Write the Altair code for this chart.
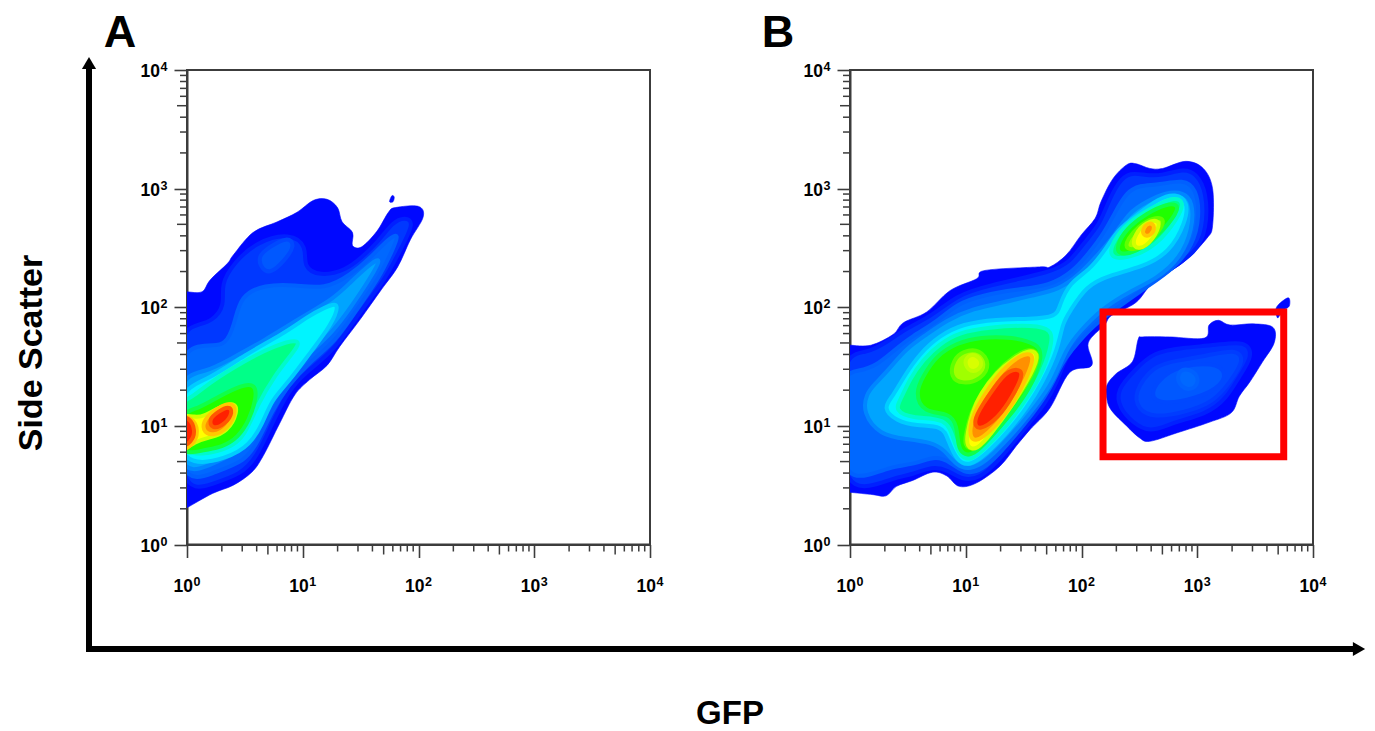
import altair as alt
import pandas as pd

BLUE0, BLUE1, BLUE2, BLUE3 = "#0008ff", "#0038ff", "#0068ff", "#00a4ff"
CYAN, MINT, GREEN, LIME = "#00f4ff", "#00ff88", "#20ff00", "#a0ff00"
YELLOW, ORANGE, RED = "#ffff00", "#ff9000", "#ff2000"
PALE_YELLOW = "#d8ff00"
BOX1, BOX2, BOX3, BOX4 = "#0030ff", "#0048ff", "#0058ff", "#0068ff"
EDGES = {BLUE1: "#0020ff", BLUE2: "#0050ff", BLUE3: "#0086ff", CYAN: "#00ccff", MINT: "#00facc", GREEN: "#10ff48",
         LIME: "#60ff00", YELLOW: "#d0ff00", ORANGE: "#ffc800", RED: "#ff5800", PALE_YELLOW: "#bcff00",
         BOX1: "#0020ff", BOX2: "#003cff", BOX3: "#0050ff", BOX4: "#0060ff", "#0058ff": "#0048ff"}

A_OUTER = [(-.1,2.13),(-.04,2.13),(0,2.13),(.13,2.13),(.20,2.23),(.35,2.37),(.40,2.44),(.57,2.63),(.78,2.72),(.95,2.80),(1.09,2.90),(1.21,2.91),(1.30,2.84),(1.34,2.72),(1.43,2.63),(1.43,2.52),(1.51,2.51),(1.64,2.64),(1.74,2.80),(1.80,2.84),(2.00,2.85),(2.04,2.76),(1.93,2.57),(1.82,2.34),(1.68,2.15),(1.49,1.89),(1.32,1.67),(1.21,1.51),(1.06,1.39),(.93,1.26),(.80,1.02),(.66,.75),(.56,.61),(.40,.50),(.22,.43),(0,.31),(-.04,.29),(-.1,.26)]
A_SPECK = [(1.75,2.89),(1.77,2.94),(1.79,2.93),(1.78,2.89)]
A_L1 = [(-.1,.40),(.24,.52),(.46,.59),(.60,.73),(.73,1.01),(.87,1.29),(1.02,1.45),(1.28,1.64),(1.49,1.96),(1.71,2.23),(1.84,2.48),(1.97,2.72),(1.88,2.76),(1.78,2.72),(1.65,2.55),(1.51,2.42),(1.37,2.31),(1.15,2.26),(1.00,2.34),(1.04,2.51),(.89,2.63),(.60,2.55),(.41,2.38),(.29,2.19),(.33,2.02),(.22,1.88),(.07,1.85),(-.1,1.77)]
A_L2_TOP = [(.65,2.31),(.61,2.43),(.70,2.50),(.87,2.60),(.94,2.52),(.83,2.38),(.73,2.29)]
A_L2 = [(-.1,.48),(.24,.61),(.50,.70),(.61,.86),(.73,1.12),(.87,1.34),(1.06,1.54),(1.28,1.71),(1.45,1.96),(1.65,2.23),(1.77,2.47),(1.84,2.63),(1.74,2.58),(1.60,2.43),(1.41,2.27),(1.19,2.15),(.93,2.19),(.67,2.19),(.46,2.10),(.41,1.85),(.33,1.68),(.22,1.68),(.11,1.68),(-.1,1.60)]
A_L3 = [(-.1,.56),(.20,.67),(.46,.78),(.56,.95),(.70,1.18),(.85,1.40),(1.06,1.62),(1.24,1.77),(1.41,1.99),(1.60,2.27),(1.68,2.42),(1.60,2.38),(1.41,2.21),(1.28,2.08),(.98,1.91),(.67,1.72),(.37,1.56),(.16,1.45),(-.1,1.43)]
A_L4 = [(-.1,.63),(.37,.73),(.54,.84),(.65,1.01),(.73,1.22),(.88,1.37),(1.08,1.64),(1.24,1.84),(1.33,2.05),(1.19,2.00),(1.04,1.92),(.84,1.78),(.50,1.60),(.17,1.38),(-.1,1.30)]
A_L5 = [(-.1,.71),(.37,.80),(.50,.92),(.61,1.18),(.76,1.43),(.92,1.62),(1.00,1.74),(.76,1.68),(.50,1.55),(.17,1.35),(.05,1.24),(-.1,1.19)]
A_L6 = [(-.1,.74),(.16,.80),(.30,.82),(.44,.90),(.54,1.05),(.60,1.24),(.59,1.35),(.48,1.35),(.26,1.24),(.11,1.15),(-.1,1.10)]
A_L7 = [(-.1,.75),(.09,.88),(.20,.90),(.35,.95),(.44,1.12),(.41,1.20),(.29,1.16),(.14,1.08),(.08,1.07),(-.1,1.11)]
A_L8_L = [(-.1,.75),(.06,.84),(.10,.96),(.05,1.07),(-.1,1.10)]
A_L8_R = [(.13,.96),(.22,.91),(.36,.98),(.43,1.14),(.38,1.20),(.26,1.15),(.15,1.06)]
A_L9_L = [(-.1,.78),(.05,.87),(.07,.96),(.03,1.07),(-.1,1.09)]
A_L9_R = [(.21,.97),(.33,1.01),(.40,1.12),(.36,1.17),(.27,1.12),(.19,1.06)]

B_OUTER = [(-.1,1.68),(-.04,1.68),(0,1.68),(.18,1.68),(.37,1.77),(.46,1.87),(.66,1.96),(.86,2.14),(1.09,2.24),(1.16,2.31),(1.63,2.34),(1.72,2.34),(1.86,2.44),(1.99,2.61),(2.11,2.75),(2.16,2.89),(2.26,3.08),(2.38,3.20),(2.46,3.21),(2.58,3.17),(2.69,3.17),(2.89,3.23),(3.04,3.17),(3.12,3.00),(3.12,2.69),(3.07,2.58),(2.87,2.38),(2.61,2.21),(2.46,2.04),(2.25,1.93),(2.19,1.85),(2.05,1.70),(2.08,1.51),(1.89,1.45),(1.72,1.15),(1.55,.97),(1.43,.83),(1.29,.66),(1.09,.52),(.94,.49),(.83,.58),(.71,.61),(.54,.54),(.40,.49),(.31,.41),(.20,.42),(0,.44),(-.04,.44),(-.1,.44)]
B_L1 = [(-.1,.49),(.18,.48),(.37,.56),(.54,.59),(.71,.66),(.84,.63),(.97,.54),(1.12,.56),(1.26,.69),(1.40,.85),(1.52,1.00),(1.69,1.20),(1.78,1.37),(1.83,1.51),(1.92,1.68),(2.06,1.82),(2.21,1.99),(2.49,2.13),(2.72,2.30),(2.98,2.46),(3.07,2.66),(3.07,2.97),(2.98,3.13),(2.87,3.17),(2.69,3.11),(2.55,3.11),(2.41,3.14),(2.31,3.06),(2.21,2.86),(2.15,2.70),(2.02,2.55),(1.89,2.38),(1.75,2.30),(1.17,2.18),(.92,2.10),(.71,1.93),(.48,1.82),(.31,1.70),(.14,1.61),(-.1,1.61)]
B_L2 = [(-.1,.55),(.17,.58),(.37,.66),(.57,.68),(.74,.75),(.87,.69),(1.00,.59),(1.14,.63),(1.29,.77),(1.43,.93),(1.57,1.10),(1.70,1.27),(1.83,1.54),(1.89,1.62),(2.09,1.85),(2.32,2.01),(2.55,2.17),(2.78,2.32),(2.95,2.52),(3.01,2.77),(2.98,3.00),(2.87,3.08),(2.66,3.03),(2.49,3.03),(2.38,2.97),(2.28,2.80),(2.19,2.63),(2.06,2.46),(1.92,2.30),(1.72,2.18),(1.43,2.15),(1.14,2.10),(.92,2.03),(.74,1.87),(.54,1.76),(.37,1.63),(.23,1.51),(.08,1.46),(-.1,1.45)]
B_L3 = [(.11,1.11),(.26,.92),(.48,.89),(.71,.86),(.81,.80),(.92,.66),(1.03,.63),(1.17,.70),(1.32,.85),(1.46,1.00),(1.60,1.17),(1.75,1.37),(1.86,1.65),(1.97,1.79),(2.17,1.99),(2.40,2.13),(2.64,2.24),(2.84,2.41),(2.95,2.66),(2.95,2.89),(2.87,2.97),(2.72,2.97),(2.55,2.89),(2.40,2.80),(2.28,2.61),(2.15,2.46),(1.97,2.27),(1.80,2.15),(1.57,2.10),(1.32,2.04),(1.06,1.99),(.83,1.89),(.66,1.77),(.48,1.65),(.34,1.48),(.21,1.35),(.14,1.27)]
B_L4 = [(.28,1.15),(.40,1.04),(.57,1.00),(.80,1.00),(.84,.89),(.92,.70),(1.03,.66),(1.17,.76),(1.35,.94),(1.52,1.15),(1.66,1.37),(1.79,1.65),(1.83,1.87),(1.89,1.96),(2.03,2.18),(2.23,2.27),(2.52,2.34),(2.75,2.46),(2.89,2.72),(2.91,2.89),(2.80,2.96),(2.66,2.92),(2.46,2.77),(2.31,2.66),(2.20,2.49),(2.06,2.31),(1.89,2.21),(1.80,2.01),(1.78,1.92),(1.55,1.90),(1.26,1.90),(.97,1.86),(.77,1.76),(.60,1.61),(.46,1.41),(.37,1.25)]
B_L5 = [(.38,1.13),(.54,1.06),(.83,1.07),(.89,.89),(.94,.75),(1.04,.70),(1.17,.82),(1.35,1.00),(1.52,1.23),(1.66,1.45),(1.75,1.73),(1.72,1.83),(1.49,1.85),(1.20,1.83),(.94,1.79),(.77,1.69),(.63,1.56),(.51,1.39),(.44,1.23)]
B_L6 = [(.63,1.11),(.86,1.11),(.92,1.00),(.93,.83),(.97,.76),(1.06,.75),(1.20,.89),(1.37,1.08),(1.55,1.31),(1.66,1.59),(1.62,1.69),(1.40,1.75),(1.12,1.75),(.92,1.70),(.74,1.59),(.63,1.42),(.56,1.28)]
B_L7_A = [(.97,1.63),(1.12,1.65),(1.21,1.52),(1.13,1.39),(.97,1.35),(.86,1.41),(.89,1.56)]
B_L7_B = [(1.00,.94),(.98,.84),(1.06,.78),(1.20,.92),(1.36,1.13),(1.52,1.34),(1.65,1.60),(1.55,1.66),(1.40,1.58),(1.26,1.46),(1.13,1.28),(1.04,1.11)]
B_L8_A = [(1.01,1.60),(1.10,1.60),(1.15,1.51),(1.06,1.44),(.98,1.51)]
B_L8_B = [(1.01,.94),(1.00,.82),(1.09,.79),(1.22,.94),(1.38,1.15),(1.52,1.37),(1.64,1.60),(1.55,1.65),(1.40,1.56),(1.27,1.46),(1.12,1.27),(1.05,1.11)]
B_L9 = [(1.02,.96),(1.06,.84),(1.24,.98),(1.40,1.18),(1.53,1.42),(1.60,1.62),(1.46,1.60),(1.30,1.46),(1.18,1.30),(1.08,1.14)]
B_L10 = [(1.06,1.04),(1.10,.95),(1.28,1.07),(1.40,1.25),(1.52,1.48),(1.36,1.48),(1.24,1.32),(1.14,1.18)]
C_L5 = [(2.21,2.41),(2.40,2.41),(2.64,2.52),(2.82,2.75),(2.88,2.89),(2.79,2.93),(2.64,2.86),(2.44,2.75),(2.29,2.61)]
C_L6 = [(2.29,2.44),(2.46,2.46),(2.66,2.61),(2.82,2.80),(2.82,2.87),(2.72,2.87),(2.55,2.79),(2.41,2.69),(2.31,2.56)]
C_L7 = [(2.36,2.48),(2.52,2.49),(2.68,2.66),(2.71,2.75),(2.61,2.76),(2.48,2.68),(2.39,2.58)]
C_L8 = [(2.43,2.49),(2.55,2.50),(2.66,2.66),(2.66,2.74),(2.55,2.72),(2.45,2.62)]
C_L9 = [(2.52,2.60),(2.59,2.60),(2.63,2.68),(2.58,2.72),(2.52,2.67)]
D_OUTER = [(2.21,1.34),(2.29,1.44),(2.43,1.54),(2.48,1.73),(2.52,1.75),(2.75,1.75),(3.05,1.74),(3.09,1.85),(3.17,1.89),(3.27,1.85),(3.47,1.86),(3.64,1.83),(3.65,1.70),(3.55,1.54),(3.44,1.37),(3.35,1.25),(3.28,1.11),(3.09,1.03),(2.81,.94),(2.58,.87),(2.49,.90),(2.38,1.00),(2.25,1.13),(2.21,1.23)]
D_SPECK = [(3.67,2.00),(3.77,2.08),(3.78,2.01),(3.72,1.97),(3.68,1.91)]
D_L1 = [(2.29,1.30),(2.46,1.48),(2.61,1.62),(2.86,1.66),(3.15,1.68),(3.41,1.72),(3.47,1.59),(3.35,1.42),(3.24,1.23),(3.07,1.10),(2.78,1.03),(2.58,.94),(2.43,1.03),(2.32,1.15)]
D_L2 = [(2.44,1.28),(2.61,1.51),(2.81,1.55),(3.07,1.59),(3.32,1.65),(3.40,1.56),(3.27,1.37),(3.13,1.20),(2.87,1.11),(2.61,1.07),(2.48,1.14)]
D_L3 = [(2.56,1.25),(2.72,1.48),(3.07,1.54),(3.24,1.48),(3.21,1.34),(2.98,1.23),(2.69,1.18)]
D_L4 = [(2.80,1.38),(2.85,1.50),(2.99,1.45),(3.00,1.34),(2.90,1.29)]

GATE_X = [2.186, 3.747]
GATE_Y = [0.74, 1.96]

MAJOR_TICKS = [1, 10, 100, 1000, 10000]
BASE_TEXT = "10"
EXPONENTS = ["0", "1", "2", "3", "4"]
SHORT_FACTORS = [2, 3, 4, 6, 7, 8, 9]
MID_FACTORS = [5]
B_X_CALIBRATION = 1.004  # the B outlines were read with a decade slightly wider than the axis

PANEL_A = [(A_OUTER,BLUE0,True),(A_SPECK,BLUE0,True),(A_L1,BLUE1,False),(A_L2_TOP,"#0058ff",False),(A_L2,BLUE2,False),(A_L3,BLUE3,False),(A_L4,CYAN,False),(A_L5,MINT,False),(A_L6,GREEN,False),(A_L7,YELLOW,False),(A_L8_L,ORANGE,False),(A_L8_R,ORANGE,False),(A_L9_L,RED,False),(A_L9_R,RED,False)]
PANEL_B = [(B_OUTER,BLUE0,True),(B_L1,BLUE1,False),(B_L2,BLUE2,False),(B_L3,BLUE3,False),(B_L4,CYAN,False),(B_L5,MINT,False),(B_L6,GREEN,False),(B_L7_A,LIME,False),(B_L7_B,LIME,False),(B_L8_A,PALE_YELLOW,False),(B_L8_B,YELLOW,False),(B_L9,ORANGE,False),(B_L10,RED,False),(C_L5,MINT,False),(C_L6,GREEN,False),(C_L7,LIME,False),(C_L8,YELLOW,False),(C_L9,ORANGE,False),(D_OUTER,BLUE0,True),(D_SPECK,BLUE0,True),(D_L1,BOX1,False),(D_L2,BOX2,False),(D_L3,BOX3,False),(D_L4,BOX4,False)]

W, H = 463, 474.5
FRAME = "#3c3c3c"
FONT = "Liberation Sans"
xs = alt.Scale(type="log", domain=[1, 10000], nice=False)
ys = alt.Scale(type="log", domain=[1, 10000], nice=False)
common = dict(values=MAJOR_TICKS, title=None, labels=False, tickColor=FRAME, tickWidth=1.6, tickSize=13,
              domainColor=FRAME, domainWidth=2, grid=False)
AX = alt.Axis(**common)
AY = alt.Axis(**common)


def polygon(points, color, crisp, cal=1.0):
    df = pd.DataFrame({"x": [10 ** (p[0] * cal) for p in points], "y": [10 ** p[1] for p in points], "i": range(len(points))})
    if crisp:
        style = dict(stroke=color, strokeWidth=0.6, interpolate="cardinal-closed")
    else:
        style = dict(stroke=EDGES[color], strokeWidth=4, interpolate="basis-closed")
    return alt.Chart(df).mark_line(fill=color, clip=True, **style).encode(
        x=alt.X("x:Q", scale=xs, axis=AX),
        y=alt.Y("y:Q", scale=ys, axis=AY),
        order=alt.Order("i:Q"),
    )


def minor_ticks(factors, size):
    vals = [f * d for d in MAJOR_TICKS[:-1] for f in factors]
    df = pd.DataFrame({"v": vals})
    style = dict(color=FRAME, strokeWidth=1.5)
    tx = alt.Chart(df).mark_rule(**style).encode(x=alt.X("v:Q", scale=xs, axis=AX), y=alt.value(H), y2=alt.value(H + size))
    ty = alt.Chart(df).mark_rule(**style).encode(y=alt.Y("v:Q", scale=ys, axis=AY), x=alt.value(-size), x2=alt.value(0))
    return [tx, ty]


def tick_labels():
    df = pd.DataFrame({"v": MAJOR_TICKS, "base": [BASE_TEXT] * len(MAJOR_TICKS), "exp": EXPONENTS})
    base = dict(font=FONT, fontWeight="bold", color="black", baseline="alphabetic")
    big = dict(fontSize=17.5, align="right", **base)
    small = dict(fontSize=12.5, align="left", **base)
    return [
        alt.Chart(df).mark_text(dx=6, **big).encode(x=alt.X("v:Q", scale=xs, axis=AX), y=alt.value(H + 47), text="base:N"),
        alt.Chart(df).mark_text(dx=6.5, **small).encode(x=alt.X("v:Q", scale=xs, axis=AX), y=alt.value(H + 41), text="exp:N"),
        alt.Chart(df).mark_text(dy=7, **big).encode(y=alt.Y("v:Q", scale=ys, axis=AY), x=alt.value(-27), text="base:N"),
        alt.Chart(df).mark_text(dy=1, **small).encode(y=alt.Y("v:Q", scale=ys, axis=AY), x=alt.value(-26.5), text="exp:N"),
    ]


def big_text(text, px, py, size, angle=0):
    return alt.Chart(pd.DataFrame({"t": [text]})).mark_text(
        font=FONT, fontWeight="bold", fontSize=size, color="black", angle=angle, align="center", baseline="alphabetic"
    ).encode(text="t:N", x=alt.value(px), y=alt.value(py))


def panel(polys, extras, cal=1.0):
    layers = [polygon(*p, cal) for p in polys]
    layers += minor_ticks(SHORT_FACTORS, 7) + minor_ticks(MID_FACTORS, 10) + tick_labels()
    layers += extras
    return alt.layer(*layers).properties(width=W, height=H)


arrow_df = pd.DataFrame({"k": ["arrow"]})
BLACK = dict(color="black", strokeWidth=6)
left_extras = [
    alt.Chart(arrow_df).mark_rule(**BLACK).encode(x=alt.value(-98), y=alt.value(-4), y2=alt.value(582)),
    alt.Chart(arrow_df).mark_rule(**BLACK).encode(x=alt.value(-101), x2=alt.value(1168), y=alt.value(579)),
    alt.Chart(arrow_df).mark_point(shape="triangle-up", filled=True, color="black", size=200, opacity=1).encode(x=alt.value(-98), y=alt.value(-7)),
    alt.Chart(arrow_df).mark_point(shape="triangle-right", filled=True, color="black", size=200, opacity=1).encode(x=alt.value(1172), y=alt.value(579)),
    big_text("A", -67, -23, 45),
    big_text("Side Scatter", -145, 283, 34, angle=270),
]
gate = alt.Chart(pd.DataFrame({"x": [10 ** GATE_X[0]], "x2": [10 ** GATE_X[1]], "y": [10 ** GATE_Y[0]], "y2": [10 ** GATE_Y[1]]})).mark_rect(
    fill=None, stroke="#ff0000", strokeWidth=7
).encode(x=alt.X("x:Q", scale=xs, axis=AX), x2="x2:Q", y=alt.Y("y:Q", scale=ys, axis=AY), y2="y2:Q")
right_extras = [gate, big_text("B", -72, -23, 45), big_text("GFP", -120, 654, 33)]

chart = alt.hconcat(panel(PANEL_A, left_extras), panel(PANEL_B, right_extras, B_X_CALIBRATION), spacing=200, bounds="flush").properties(
    padding={"left": 6, "top": 2, "right": 0, "bottom": 4}
).configure_view(stroke=FRAME, strokeWidth=2)

chart.save("out.html", embed_options={"renderer": "svg", "actions": False})
